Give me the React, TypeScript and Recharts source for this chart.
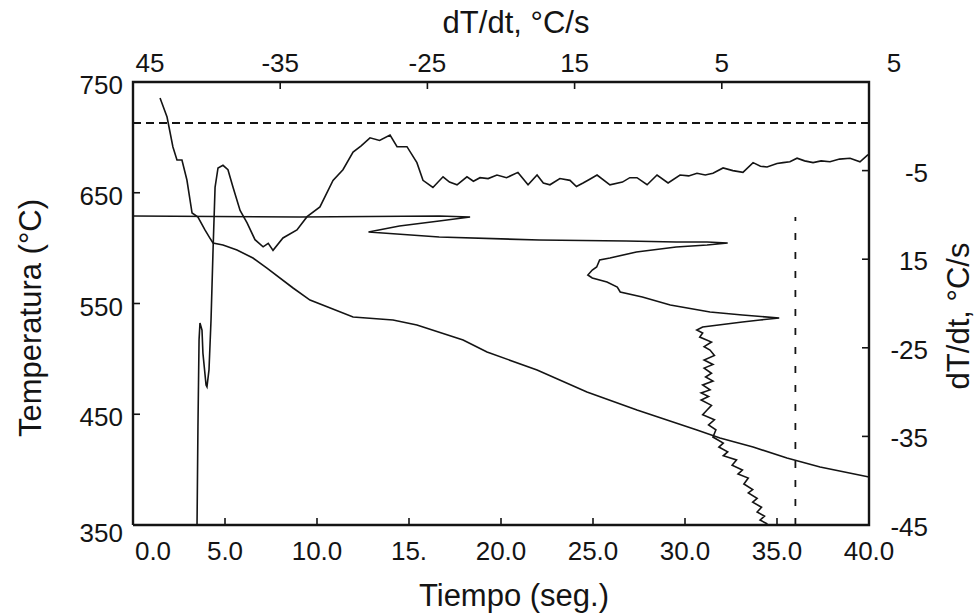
import { ComposedChart, Line, XAxis, YAxis } from "recharts";

// bottom axis: tiempo (s)
const timeTicks = [0, 5, 10, 15, 20, 25, 30, 35, 40];
const timeTickLabels = ["0.0", "5.0", "10.0", "15.", "20.0", "25.0", "30.0", "35.0", "40.0"];

// left axis: temperatura (°C)
const tempTicks = [350, 450, 550, 650, 750];
const tempTickLabels = ["350", "450", "550", "650", "750"];

// top axis: dT/dt (labels as printed on the original)
const topRateTicks = [-45, -35, -25, -15, -5, 5];
const topRateLabels = ["45", "-35", "-25", "15", "5", "5"];

// right axis: dT/dt
const rightRateTicks = [-45, -35, -25, -15, -5];
const rightRateLabels = ["-45", "-35", "-25", "15", "-5"];

// curva de enfriamiento [t, T]
const coolingCurve: [number, number][] = [
  [1.47, 735.6], [1.85, 718.4], [2.17, 691.3], [2.39, 679.6], [2.66, 679.6], [2.93, 661.5],
  [3.21, 631.7], [3.53, 628.1], [3.91, 616.4], [4.18, 609.1], [4.35, 604.6], [4.89, 602.8],
  [5.65, 598.3], [6.52, 591.1], [7.28, 582.0], [8.7, 564.0], [9.62, 553.1], [11.96, 537.8],
  [14.13, 535.1], [15.43, 530.6], [17.94, 517.0], [19.24, 506.2], [21.96, 490.0], [24.67, 470.1],
  [27.39, 453.8], [30.65, 435.8], [31.9, 428.5], [33.7, 420.4], [35.54, 410.5], [37.34, 402.3],
  [40.0, 393.3],
];

// dT/dt contra tiempo [t, dT/dt]
const rateCurve: [number, number][] = [
  [3.48, -45], [3.53, -33.9], [3.59, -24.1], [3.64, -22.2], [3.75, -23.0], [3.8, -25.6],
  [3.97, -29.2], [4.02, -29.4], [4.13, -27.5], [4.24, -21.9], [4.35, -14.0], [4.46, -6.9],
  [4.62, -4.7], [4.89, -4.4], [5.16, -4.9], [5.44, -6.9], [5.82, -9.5], [6.2, -10.9],
  [6.63, -12.8], [7.07, -13.6], [7.35, -13.2], [7.61, -14.0], [8.15, -12.6], [8.91, -11.7],
  [9.46, -10.2], [10.16, -9.1], [10.87, -6.1], [11.41, -4.9], [11.96, -2.9], [12.4, -2.2],
  [12.88, -1.3], [13.4, -1.6], [13.97, -1.0], [14.35, -2.3], [14.89, -2.3], [15.43, -4.1],
  [15.76, -6.1], [16.3, -6.9], [16.85, -5.7], [17.2, -6.3], [17.61, -6.6], [18.15, -5.7],
  [18.5, -6.2], [18.86, -5.8], [19.3, -5.9], [19.78, -5.5], [20.3, -5.8], [20.92, -5.2],
  [21.47, -6.6], [21.96, -5.5], [22.3, -6.4], [22.66, -6.6], [23.2, -5.9], [23.75, -6.1],
  [24.1, -6.8], [24.46, -6.4], [24.8, -6.0], [25.22, -5.5], [25.92, -6.6], [26.6, -6.3],
  [27.0, -5.8], [27.39, -5.8], [27.94, -6.6], [28.48, -5.5], [29.08, -6.4], [29.73, -5.5],
  [30.2, -5.6], [30.65, -5.3], [31.1, -5.5], [31.52, -5.3], [32.07, -4.7], [32.6, -5.0],
  [33.15, -5.2], [33.7, -4.1], [34.1, -4.5], [34.46, -4.6], [35.0, -4.2], [35.33, -4.1],
  [35.7, -4.0], [36.09, -3.6], [36.5, -3.9], [36.96, -4.1], [37.4, -3.9], [37.88, -4.0],
  [38.4, -3.7], [38.97, -3.6], [39.51, -4.0], [39.95, -3.2],
];

// temperatura contra dT/dt [dT/dt, T]
const rateTempCurve: [number, number][] = [
  [-45, 629], [-33.7, 628.1], [-24.2, 629], [-22.1, 628.1], [-24.2, 624.5], [-26.9, 620],
  [-29.0, 614.5], [-24.2, 610], [-17.4, 607.3], [-11.5, 606.4], [-8.1, 605.5], [-6.0, 605.5],
  [-4.6, 604.6], [-6.0, 602.8], [-8.1, 601], [-10.8, 596.5], [-12.6, 591.1], [-13.3, 589.3],
  [-13.5, 583], [-13.8, 580.2], [-14.1, 575.7], [-13.8, 573], [-12.8, 569.4], [-12.1, 564.9],
  [-11.9, 560.4], [-10.4, 555.9], [-8.5, 548.6], [-5.8, 542.3], [-3.6, 539.6], [-1.1, 536.9],
  [-2.4, 535.1], [-3.6, 533.3], [-6.3, 528.8], [-6.7, 526.1], [-6.3, 523.3], [-6.5, 519.7],
  [-5.7, 515.2], [-6.2, 511], [-5.8, 508], [-5.5, 503], [-6.2, 499], [-5.6, 495], [-6.2, 491.7],
  [-5.7, 487], [-6.1, 483.6], [-5.6, 480], [-6.3, 476.4], [-5.8, 472], [-6.4, 469.2],
  [-5.9, 466], [-6.4, 462.8], [-5.7, 458], [-6.0, 453.8], [-6.3, 449.5], [-5.5, 445],
  [-5.9, 440.3], [-5.4, 436], [-5.6, 429.4], [-4.9, 424], [-5.2, 420.4], [-4.6, 416],
  [-4.9, 412.5], [-4.0, 408.7], [-4.3, 404], [-3.6, 399.6], [-3.9, 396], [-3.2, 392.4],
  [-3.5, 387], [-2.9, 382], [-3.2, 378.9], [-2.6, 374], [-2.9, 370.7], [-2.3, 366],
  [-2.6, 361.7], [-2.1, 358], [-2.4, 354.5], [-1.9, 350.9],
];

// líneas de referencia
const refTempLine: [number, number][] = [[0, 713], [40, 713]];
const refTimeLine: [number, number][] = [[36, 350], [36, 628]];

// marco del gráfico (esquinas en t, T)
const frameTime = [0, 0, 40, 40, 0];
const frameTemp = [350, 750, 750, 350, 350];

const coolingData = coolingCurve.map(([t, T]) => ({ t, T }));
const rateData = rateCurve.map(([t, r]) => ({ t, r }));
const rateTempData = rateTempCurve.map(([v, T]) => ({ v, T }));
const hRefData = refTempLine.map(([t, T]) => ({ t, T }));
const vRefData = refTimeLine.map(([t, T]) => ({ t, T }));
const frameData = frameTime.map((t, i) => ({ t, T: frameTemp[i] }));

const FONT = "'Liberation Sans', Arial, sans-serif";
const INK = "#141414";
const TICK_LEN = 7;

const labelFor = (ticks: number[], labels: string[], value: number) => {
  const i = ticks.indexOf(value);
  return i >= 0 ? labels[i] : String(value);
};

// ticks are drawn inward by the tick components themselves
const BottomTick = (props: any) => {
  const { x, y, payload } = props;
  const dx = payload.value === 0 ? 20 : 0;
  const edge = payload.value === 0 || payload.value === 40;
  return (
    <g>
      {!edge && <line x1={x} x2={x} y1={y} y2={y - TICK_LEN} stroke={INK} strokeWidth={1.6} />}
      <text x={x + dx} y={y + 35} textAnchor="middle" fontFamily={FONT} fontSize={26} fill={INK}>
        {labelFor(timeTicks, timeTickLabels, payload.value)}
      </text>
    </g>
  );
};

const TopTick = (props: any) => {
  const { x, y, payload } = props;
  const dx = payload.value === -45 ? 17 : payload.value === 5 ? 25 : 0;
  const edge = payload.value === -45 || payload.value === 5;
  return (
    <g>
      {!edge && <line x1={x} x2={x} y1={y} y2={y + TICK_LEN} stroke={INK} strokeWidth={1.6} />}
      <text x={x + dx} y={y - 10} textAnchor="middle" fontFamily={FONT} fontSize={26} fill={INK}>
        {labelFor(topRateTicks, topRateLabels, payload.value)}
      </text>
    </g>
  );
};

const LeftTick = (props: any) => {
  const { x, y, payload } = props;
  const dy = payload.value === 350 ? 17 : 12;
  const edge = payload.value === 350 || payload.value === 750;
  return (
    <g>
      {!edge && <line x1={x} x2={x + TICK_LEN} y1={y} y2={y} stroke={INK} strokeWidth={1.6} />}
      <text x={x - 10} y={y + dy} textAnchor="end" fontFamily={FONT} fontSize={26} fill={INK}>
        {labelFor(tempTicks, tempTickLabels, payload.value)}
      </text>
    </g>
  );
};

const RightTick = (props: any) => {
  const { x, y, payload } = props;
  const edge = payload.value === -45;
  return (
    <g>
      {!edge && <line x1={x} x2={x - TICK_LEN} y1={y} y2={y} stroke={INK} strokeWidth={1.6} />}
      <text x={928} y={y + 11} textAnchor="end" fontFamily={FONT} fontSize={26} fill={INK}>
        {labelFor(rightRateTicks, rightRateLabels, payload.value)}
      </text>
    </g>
  );
};

const titleStyle: React.CSSProperties = {
  position: "absolute",
  fontFamily: FONT,
  fontSize: 31,
  color: INK,
  whiteSpace: "nowrap",
  lineHeight: 1,
};

export default function App() {
  return (
    <div style={{ position: "absolute", left: 0, top: 0, width: 980, height: 615, background: "#fff" }}>
      <ComposedChart width={980} height={615} margin={{ top: 0, right: 0, bottom: 0, left: 0 }}>
        <XAxis
          xAxisId="time"
          dataKey="t"
          type="number"
          domain={[0, 40]}
          ticks={timeTicks}
          height={90}
          axisLine={false}
          tickLine={false}
          tickSize={0}
          tickMargin={0}
          tick={<BottomTick />}
        />
        <XAxis
          xAxisId="rate"
          orientation="top"
          dataKey="v"
          type="number"
          domain={[-45, 5]}
          ticks={topRateTicks}
          height={82}
          axisLine={false}
          tickLine={false}
          tickSize={0}
          tickMargin={0}
          tick={<TopTick />}
        />
        <YAxis
          yAxisId="temp"
          type="number"
          domain={[350, 750]}
          ticks={tempTicks}
          width={133}
          axisLine={false}
          tickLine={false}
          tickSize={0}
          tickMargin={0}
          tick={<LeftTick />}
        />
        <YAxis
          yAxisId="rate"
          orientation="right"
          type="number"
          domain={[-45, 5]}
          ticks={rightRateTicks}
          width={111}
          axisLine={false}
          tickLine={false}
          tickSize={0}
          tickMargin={0}
          tick={<RightTick />}
        />
        <Line
          data={frameData}
          xAxisId="time"
          yAxisId="temp"
          dataKey="T"
          stroke={INK}
          strokeWidth={2.4}
          dot={false}
          isAnimationActive={false}
        />
        <Line
          data={hRefData}
          xAxisId="time"
          yAxisId="temp"
          dataKey="T"
          stroke={INK}
          strokeWidth={2}
          strokeDasharray="8 5"
          dot={false}
          isAnimationActive={false}
        />
        <Line
          data={vRefData}
          xAxisId="time"
          yAxisId="temp"
          dataKey="T"
          stroke={INK}
          strokeWidth={1.8}
          strokeDasharray="7 12"
          dot={false}
          isAnimationActive={false}
        />
        <Line
          data={coolingData}
          xAxisId="time"
          yAxisId="temp"
          dataKey="T"
          stroke={INK}
          strokeWidth={1.6}
          dot={false}
          isAnimationActive={false}
        />
        <Line
          data={rateData}
          xAxisId="time"
          yAxisId="rate"
          dataKey="r"
          stroke={INK}
          strokeWidth={1.6}
          dot={false}
          isAnimationActive={false}
        />
        <Line
          data={rateTempData}
          xAxisId="rate"
          yAxisId="temp"
          dataKey="T"
          stroke={INK}
          strokeWidth={1.6}
          dot={false}
          isAnimationActive={false}
        />
      </ComposedChart>
      <div style={{ ...titleStyle, left: 516, top: 7, transform: "translateX(-50%)" }}>dT/dt, °C/s</div>
      <div style={{ ...titleStyle, left: 514, top: 580, transform: "translateX(-50%)" }}>Tiempo (seg.)</div>
      <div
        style={{
          ...titleStyle,
          left: 30,
          top: 318,
          transform: "translate(-50%, -50%) rotate(-90deg)",
        }}
      >
        Temperatura (°C)
      </div>
      <div
        style={{
          ...titleStyle,
          left: 958,
          top: 316,
          transform: "translate(-50%, -50%) rotate(-90deg)",
        }}
      >
        dT/dt, °C/s
      </div>
    </div>
  );
}
